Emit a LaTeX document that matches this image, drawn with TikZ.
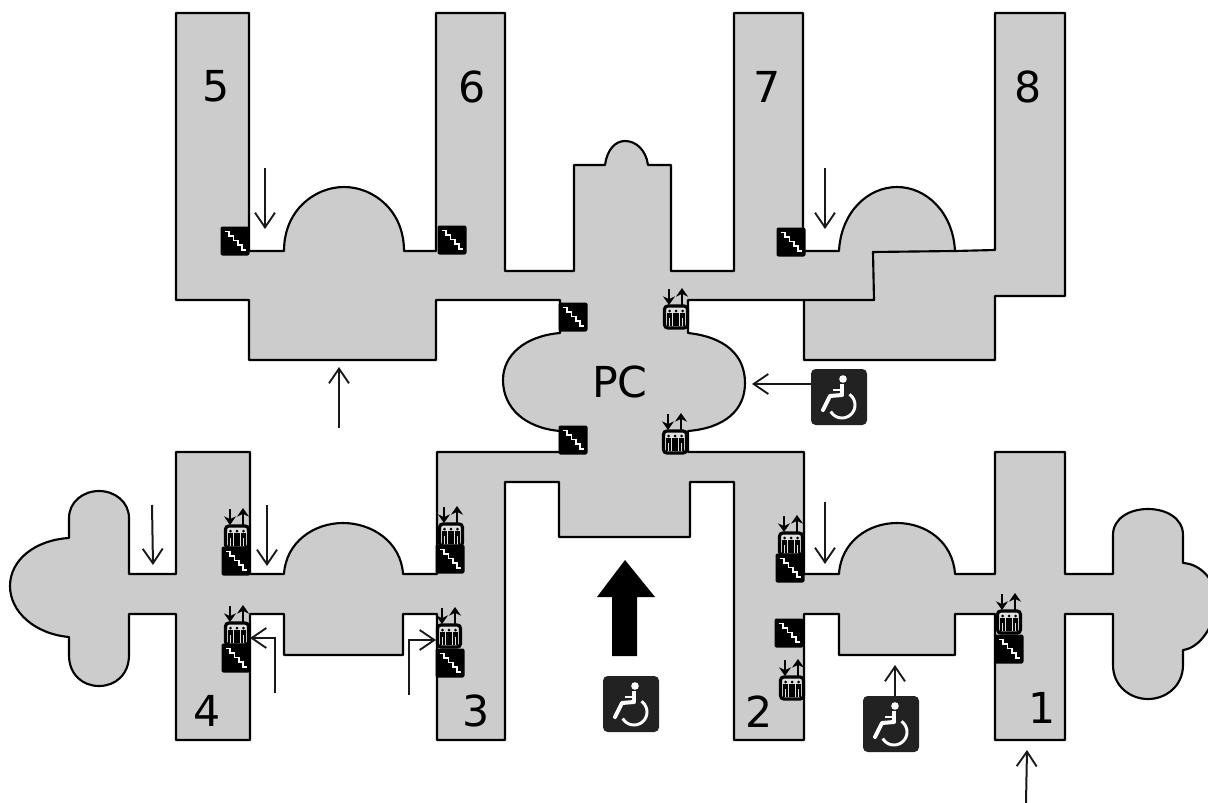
\documentclass[tikz,border=0pt]{standalone}
\usepackage{fontspec}
\setmainfont{DejaVu Sans}
\usetikzlibrary{arrows.meta}
\definecolor{floor}{HTML}{CCCCCC}
\definecolor{iconblack}{HTML}{222222}
\tikzset{
  x=0.75pt,y=-0.75pt,
  wall/.style={draw=black,line width=1.6pt,line join=round},
  number/.style={font=\fontsize{32}{32}\selectfont,inner sep=0pt,text=black},
  route/.style={draw=black!90,line width=1.5pt,-{Straight Barb[length=11pt,width=15pt,line width=1.4pt]}},
  wheelbox/.style={fill=iconblack,draw=none,rounded corners=3.5pt,minimum size=42pt,inner sep=0pt},
  pics/stairicon/.style={code={
    \fill[black,rounded corners=1.5pt] (-14.5,-14.5) rectangle (14.5,14.5);
    \draw[white,line width=1.3pt] (-10.5,-9.5) -- (-6,-9.5) -- (-6,-5) -- (-1.5,-5) -- (-1.5,-0.5) -- (3,-0.5) -- (3,4) -- (7,4) -- (7,9) -- (11,9);
  }},
  pics/lifticon/.style={code={
    \draw[black,line width=2.4pt,fill=floor!60!white,rounded corners=2.5pt] (-11.5,-11) rectangle (11.5,11);
    \foreach \d in {-6.5,0,6.5}{
      \fill[black] (\d,-6) circle (1.5);
      \fill[black] (\d-2.8,-4) rectangle (\d+2.8,1);
      \fill[black] (\d-2.6,1) rectangle (\d-.3,9);
      \fill[black] (\d+.3,1) rectangle (\d+2.6,9);
    }
    \draw[black,line width=2.2pt,-{Stealth[length=6.5pt,width=9pt]}] (-7,-28) -- (-7,-12);
    \draw[black,line width=2.2pt,-{Stealth[length=6.5pt,width=9pt]}] (6,-12) -- (6,-29);
  }},
  pics/wheelman/.style={code={
    \fill[white] (4,-18) circle (3.8);
    \draw[white,line width=3pt] (3,-13) -- (3,-2);
    \draw[white,line width=2pt] (3,-7) -- (-6,-7);
    \draw[white,line width=3pt,line join=round,line cap=round] (3,-2) -- (-9,-1) -- (-16,13);
    \draw[white,line width=2.2pt] plot[domain=-55:150,samples=24] ({3+13*cos(\x)},{8+13*sin(\x)});
  }}
}
\begin{document}
\begin{tikzpicture}
\useasboundingbox (0,0) rectangle (1208,803);
\clip (0,0) rectangle (1208,803);
% floor plan outline
\path[wall,fill=floor]
  (176,13) -- (249,13) -- (249,251) -- (284,251)
  .. controls (284,210) and (315,187) .. (344,187)
  .. controls (373,187) and (404,210) .. (404,251)
  -- (436,251) -- (436,13) -- (505,13) -- (505,271) -- (574,271) -- (574,165) -- (605,165)
  .. controls (607,150) and (615,141) .. (625,141)
  .. controls (636,141) and (646,150) .. (648,165)
  -- (671,165) -- (671,271) -- (734,271) -- (734,13) -- (803,13) -- (803,251) -- (839,251)
  .. controls (841,212) and (868,187) .. (897,187)
  .. controls (926,187) and (953,212) .. (955,251)
  -- (995,250) -- (995,13) -- (1065,13) -- (1065,296) -- (995,296) -- (995,360) -- (804,360) -- (804,300) -- (688,300)
  -- (688,333)
  .. controls (725,337) and (745,355) .. (745,383)
  .. controls (745,410) and (725,428) .. (688,431)
  -- (688,452) -- (804,452) -- (804,574) -- (839,574)
  .. controls (841,542) and (868,523) .. (897,523)
  .. controls (926,523) and (953,542) .. (955,574)
  -- (995,574) -- (995,452) -- (1065,452) -- (1065,574) -- (1113,574) -- (1113,535)
  .. controls (1113,518) and (1130,509) .. (1148,509)
  .. controls (1166,509) and (1183,518) .. (1183,535)
  -- (1183,563)
  .. controls (1202,564) and (1216,582) .. (1216,600)
  .. controls (1216,625) and (1200,648) .. (1183,650)
  -- (1183,665)
  .. controls (1183,686) and (1166,699) .. (1148,699)
  .. controls (1130,699) and (1113,686) .. (1113,665)
  -- (1113,614) -- (1065,614) -- (1065,740) -- (995,740) -- (995,614) -- (955,614) -- (955,655) -- (839,655) -- (839,614)
  -- (804,614) -- (804,740) -- (734,740) -- (734,482) -- (690,482) -- (690,537) -- (559,537) -- (559,482) -- (505,482)
  -- (505,740) -- (437,740) -- (437,614) -- (403,614) -- (403,655) -- (284,655) -- (284,614) -- (250,614) -- (250,740)
  -- (176,740) -- (176,614) -- (129,614) -- (129,655)
  .. controls (129,675) and (115,686) .. (99,686)
  .. controls (83,686) and (69,675) .. (69,655)
  -- (69,637)
  .. controls (35,634) and (10,612) .. (10,586)
  .. controls (10,560) and (35,540) .. (69,538)
  -- (69,518)
  .. controls (69,502) and (83,491) .. (99,491)
  .. controls (115,491) and (129,502) .. (129,518)
  -- (129,574) -- (176,574) -- (176,452) -- (250,452) -- (250,574) -- (284,574)
  .. controls (286,542) and (314,523) .. (343,523)
  .. controls (372,523) and (401,542) .. (403,574)
  -- (437,574) -- (437,452) -- (560,452) -- (560,431)
  .. controls (525,428) and (503,408) .. (503,380)
  .. controls (503,355) and (525,336) .. (560,333)
  -- (560,300) -- (436,300) -- (436,360) -- (249,360) -- (249,300) -- (176,300) -- cycle;
% inner walls at wing 8
\draw[wall] (804,300) -- (874,300) -- (873,252) -- (955,251);
% numbers
\node[number] (n5) at (216,86) {5};
\node[number] (n6) at (472,87) {6};
\node[number] (n7) at (767,87) {7};
\node[number] (n8) at (1028,87) {8};
\node[number] (n4) at (207,711) {4};
\node[number] (n3) at (476,711) {3};
\node[number] (n2) at (759,712) {2};
\node[number] (n1) at (1042,708) {1};
\node[number] (pc) at (620,382) {PC};
% lifts
\pic at (676,317) {lifticon};
\pic at (675,442) {lifticon};
\pic at (237,537) {lifticon};
\pic at (237,634) {lifticon};
\pic at (451,535) {lifticon};
\pic at (449,636) {lifticon};
\pic at (791,544) {lifticon};
\pic at (792,688) {lifticon};
\pic at (1009,622) {lifticon};
% stairs
\pic at (235,241) {stairicon};
\pic at (452,240) {stairicon};
\pic at (573,317) {stairicon};
\pic at (573,440) {stairicon};
\pic at (791,242) {stairicon};
\pic at (236,561) {stairicon};
\pic at (236,658) {stairicon};
\pic at (450,559) {stairicon};
\pic at (450,663) {stairicon};
\pic at (790,568) {stairicon};
\pic at (789,633) {stairicon};
\pic at (1009,649) {stairicon};
% wheelchair signs
\node[wheelbox] (wcM) at (631,704) {};
\node[wheelbox] (wcR) at (839,397) {};
\node[wheelbox] (wcB) at (891,724) {};
\pic at (wcM) {wheelman};
\pic at (wcR) {wheelman};
\pic at (wcB) {wheelman};
% big arrow
\fill[black] (625,560) -- (655,597) -- (637,597) -- (637,656) -- (612,656) -- (612,597) -- (597,597) -- cycle;
% route arrows
\coordinate (a1s) at (265,168); \coordinate (a1e) at (265,229);
\coordinate (a2s) at (339,428); \coordinate (a2e) at (339,367);
\coordinate (a3s) at (825,168); \coordinate (a3e) at (825,229);
\coordinate (a4e) at (752,384);
\coordinate (a5s) at (152,505); \coordinate (a5e) at (153,565);
\coordinate (a6s) at (267,505); \coordinate (a6e) at (267,566);
\coordinate (a7s) at (275,693); \coordinate (a7m) at (275,638); \coordinate (a7e) at (250,638);
\coordinate (a8s) at (409,695); \coordinate (a8m) at (409,640); \coordinate (a8e) at (436,640);
\coordinate (a9s) at (825,502); \coordinate (a9e) at (825,564);
\coordinate (a10e) at (895,665);
\coordinate (a11s) at (1026,803); \coordinate (a11e) at (1027,750);
\draw[route] (a1s) -- (a1e);
\draw[route] (a2s) -- (a2e);
\draw[route] (a3s) -- (a3e);
\draw[route] (wcR.west |- a4e) -- (a4e);
\draw[route] (a5s) -- (a5e);
\draw[route] (a6s) -- (a6e);
\draw[route] (a7s) -- (a7m) -- (a7e);
\draw[route] (a8s) -- (a8m) -- (a8e);
\draw[route] (a9s) -- (a9e);
\draw[route] (wcB.north -| a10e) -- (a10e);
\draw[route] (a11s) -- (a11e);
\end{tikzpicture}
\end{document}
